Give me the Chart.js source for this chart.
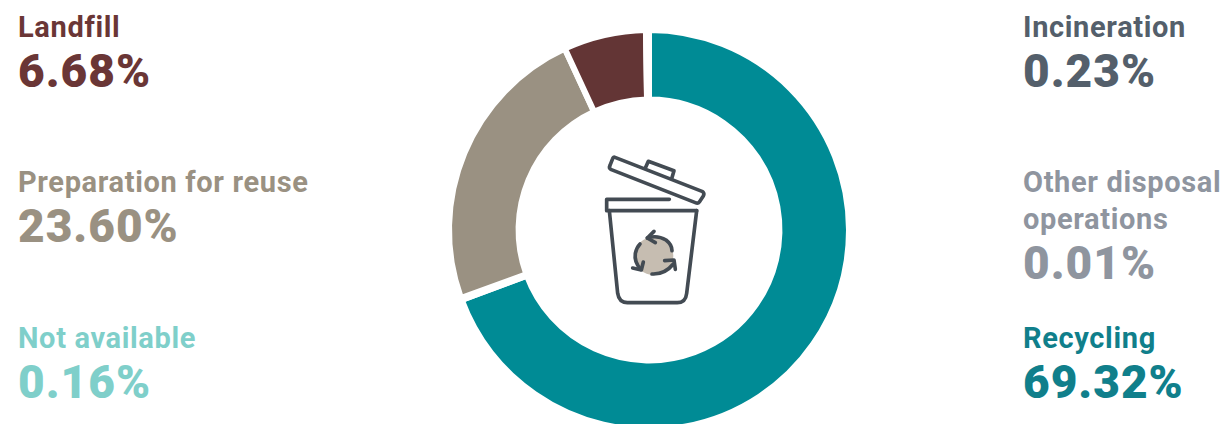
<!DOCTYPE html>
<html>
<head>
<meta charset="utf-8">
<title>Waste treatment</title>
<script src="https://cdn.jsdelivr.net/npm/chart.js@4"></script>
<style>
  html, body { margin: 0; padding: 0; background: #fff; overflow: hidden; width: 1227px; height: 424px; }
  #costWrap { position: absolute; left: 439px; top: 20px; width: 420px; height: 420px; }
  #icon { position: absolute; left: 570px; top: 140px; width: 160px; height: 175px; }
  .item { position: absolute; font-family: Roboto, sans-serif; font-weight: 700; white-space: pre-line; }
  .name { font-size: 29px; line-height: 37px; letter-spacing: 0.65px; }
  .pct { font-size: 46px; line-height: 50px; letter-spacing: 1px; font-weight: 900; }
</style>
</head>
<body>
<div id="costWrap"><canvas id="wasteChart" width="420" height="420"></canvas></div>

<svg id="icon" viewBox="0 0 480 525" fill="none" stroke="#434b53" stroke-width="11" stroke-linejoin="round" stroke-linecap="round">
  <circle cx="252" cy="348" r="58" fill="#c6bdb1" stroke="none"/>
  <path d="M135 52 L398 155 Q404 160 400 168 L388 186 Q384 192 376 188 L122 88 Q116 84 120 76 L128 56 Q130 50 135 52 Z"/>
  <path d="M226 84 L235 64 L312 92 L305 116"/>
  <path d="M298 178 H110 V212 H380"/>
  <path d="M118 212 L143 460 Q147 488 172 488 H322 Q347 488 350 460 L380 212"/>
  <path d="M232 294 Q262 284 288 300 Q306 314 306 332"/>
  <path d="M252 274 L232 294 L256 308"/>
  <path d="M212 388 Q192 366 196 340 Q200 322 210 312"/>
  <path d="M188 384 L214 390 L220 366"/>
  <path d="M246 402 Q284 404 310 372"/>
  <path d="M284 362 L312 360 L316 388"/>
</svg>

<script>
// slices run clockwise from twelve o'clock
var categories = ['Recycling', 'Not available', 'Preparation for reuse', 'Landfill', 'Incineration', 'Other disposal\noperations'];
var values = [69.32, 0.16, 23.60, 6.68, 0.23, 0.01];
var sliceColors = ['#008b95', '#7fcfca', '#9a9182', '#633535', '#545f6b', '#8f959f'];
var textColors = ['#107f8b', '#7fcfca', '#9a9182', '#6a3636', '#545f6b', '#8f959f'];

// left edge and top of each text block
var labelX = [1023, 18, 18, 18, 1023, 1023];
var labelY = [320, 320, 164, 9, 9, 164];

categories.forEach(function(name, i) {
  var item = document.createElement('div');
  item.className = 'item';
  item.style.left = labelX[i] + 'px';
  item.style.top = labelY[i] + 'px';
  item.style.color = textColors[i];
  var nameEl = document.createElement('div');
  nameEl.className = 'name';
  nameEl.textContent = name;
  var pct = document.createElement('div');
  pct.className = 'pct';
  pct.textContent = values[i].toFixed(2) + '%';
  item.appendChild(nameEl);
  item.appendChild(pct);
  document.body.appendChild(item);
});

var ctx = document.getElementById('wasteChart').getContext('2d');
var wasteChart = new Chart(ctx, {
  type: 'doughnut',
  data: {
    labels: categories,
    datasets: [{
      data: values,
      backgroundColor: sliceColors,
      borderColor: '#ffffff',
      borderWidth: 6
    }]
  },
  options: {
    responsive: false,
    animation: false,
    radius: 200,
    cutout: 135,
    layout: { padding: 0 },
    plugins: {
      legend: { display: false },
      tooltip: { enabled: false }
    }
  }
});
</script>
</body>
</html>
